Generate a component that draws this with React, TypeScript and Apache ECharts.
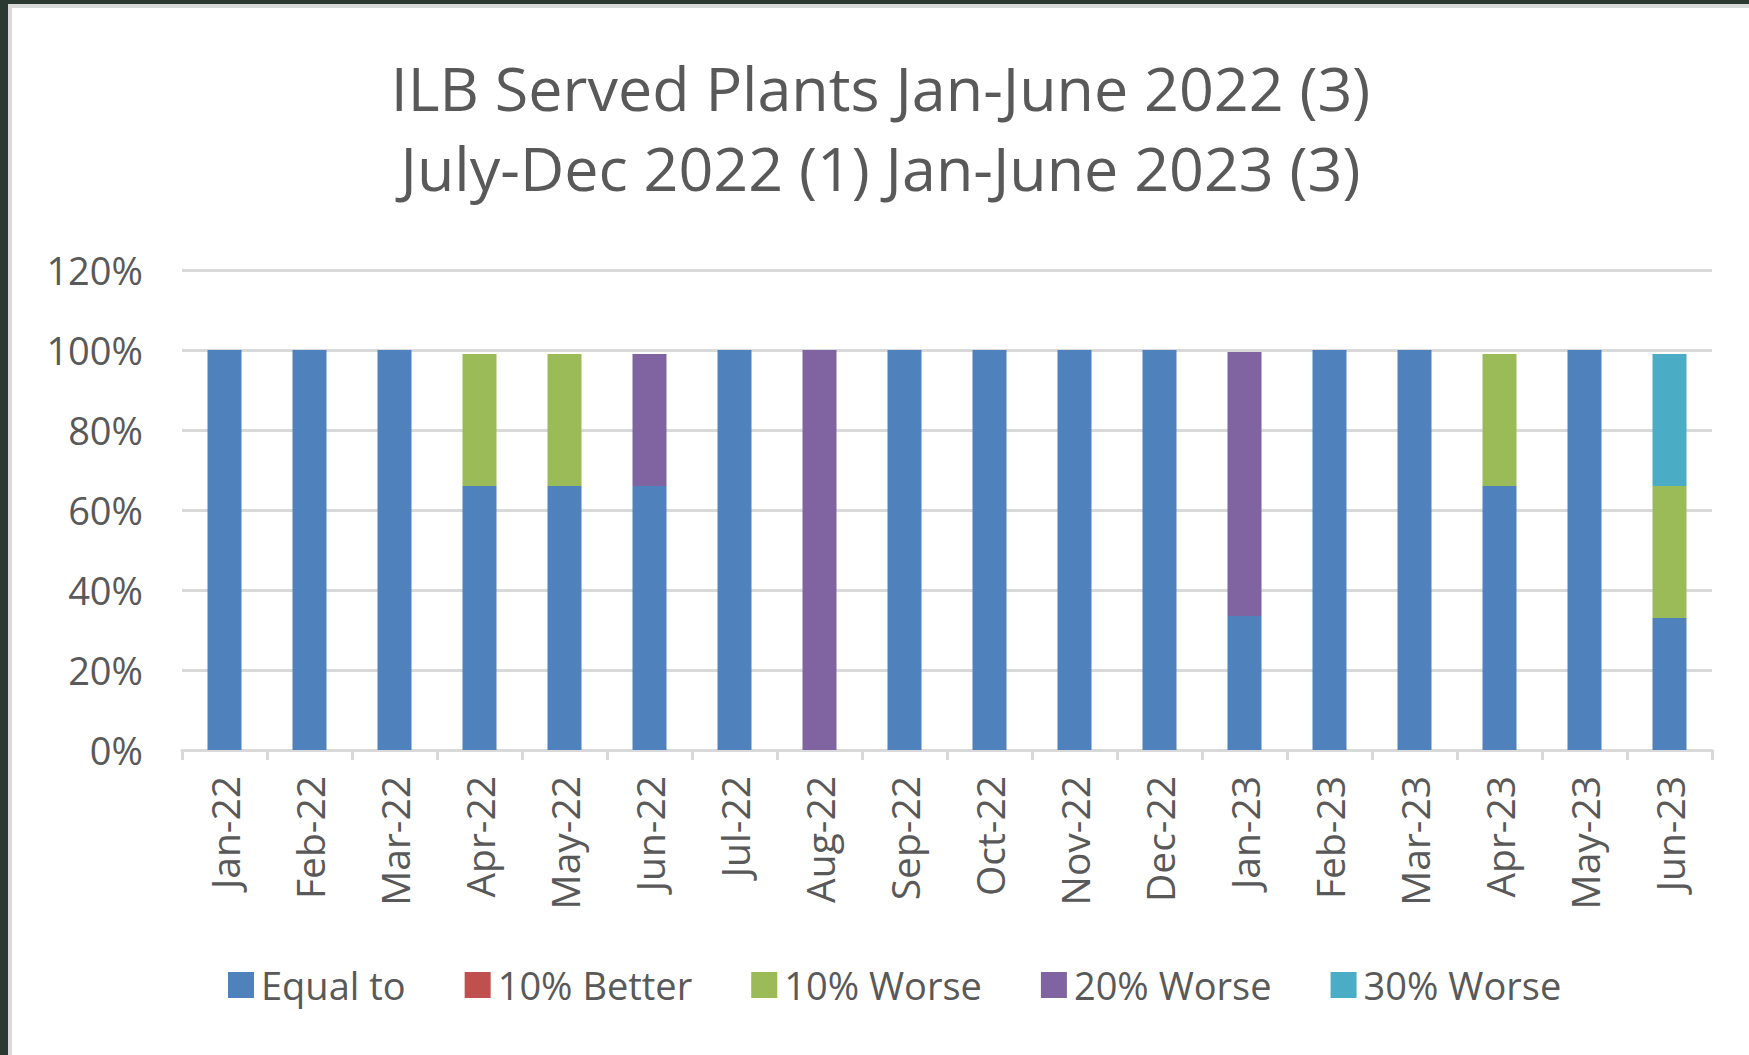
import React, { useEffect, useRef } from "react";
import * as echarts from "echarts";

const categories = [
  "Jan-22", "Feb-22", "Mar-22", "Apr-22", "May-22", "Jun-22",
  "Jul-22", "Aug-22", "Sep-22", "Oct-22", "Nov-22", "Dec-22",
  "Jan-23", "Feb-23", "Mar-23", "Apr-23", "May-23", "Jun-23",
];
const equalTo = [100, 100, 100, 66, 66, 66, 100, 0, 100, 100, 100, 100, 33.5, 100, 100, 66, 100, 33];
const better10 = [0, 0, 0, 0, 0, 0, 0, 0, 0, 0, 0, 0, 0, 0, 0, 0, 0, 0];
const worse10 = [0, 0, 0, 33, 33, 0, 0, 0, 0, 0, 0, 0, 0, 0, 0, 33, 0, 33];
const worse20 = [0, 0, 0, 0, 0, 33, 0, 100, 0, 0, 0, 0, 66, 0, 0, 0, 0, 0];
const worse30 = [0, 0, 0, 0, 0, 0, 0, 0, 0, 0, 0, 0, 0, 0, 0, 0, 0, 33];
const seriesNames = ["Equal to", "10% Better", "10% Worse", "20% Worse", "30% Worse"];
const seriesColors = ["#4F81BD", "#C0504D", "#9BBB59", "#8064A2", "#4BACC6"];
const titleLines = ["ILB Served Plants Jan-June 2022 (3)", "July-Dec 2022 (1) Jan-June 2023 (3)"];

const FONT = "'Open Sans', 'Noto Sans', sans-serif";
const TEXT = "#595959";
const GRID = "#d9d9d9";

export default function App() {
  const ref = useRef<HTMLDivElement>(null);
  useEffect(() => {
    document.body.style.margin = "0";
    const chart = echarts.init(ref.current!, null, { renderer: "svg" });
    const values = [equalTo, better10, worse10, worse20, worse30];
    chart.setOption({
      animation: false,
      backgroundColor: "#ffffff",
      title: {
        text: titleLines.join("\n"),
        left: "center",
        top: 39,
        padding: [0, 0, 0, 36],
        textStyle: { fontFamily: FONT, fontSize: 61, fontWeight: "normal", color: TEXT, lineHeight: 80 },
      },
      legend: {
        data: seriesNames,
        left: 211,
        top: 952,
        icon: "rect",
        itemWidth: 26,
        itemHeight: 26,
        itemGap: 59,
        textStyle: { fontFamily: FONT, fontSize: 38, color: TEXT, lineHeight: 40, padding: [0, 0, 0, 2] },
      },
      grid: { left: 170, right: 37, top: 262, bottom: 305, containLabel: false },
      xAxis: {
        type: "category",
        data: categories,
        axisLine: { lineStyle: { color: GRID, width: 3 } },
        axisTick: { show: true, length: 10, lineStyle: { color: GRID, width: 3 } },
        axisLabel: { rotate: 90, margin: 26, fontFamily: FONT, fontSize: 39, color: TEXT, interval: 0 },
      },
      yAxis: {
        type: "value",
        min: 0,
        max: 120,
        interval: 20,
        axisLine: { show: false },
        axisTick: { show: false },
        splitLine: { lineStyle: { color: GRID, width: 3 } },
        axisLabel: { formatter: "{value}%", margin: 39, fontFamily: FONT, fontSize: 38, color: TEXT },
      },
      series: seriesNames.map((name, i) => ({
        name,
        type: "bar",
        stack: "total",
        barWidth: "40%",
        data: values[i],
        itemStyle: { color: seriesColors[i] },
      })),
    });
    return () => chart.dispose();
  }, []);
  return (
    <div style={{ position: "fixed", left: 0, top: 0, width: 1749, height: 1055, background: "#2a3a33" }}>
      <div
        style={{
          position: "absolute",
          left: 8,
          top: 4,
          width: 1741,
          height: 1051,
          boxSizing: "border-box",
          borderLeft: "4px solid #d9d9d9",
          borderTop: "4px solid #d9d9d9",
          background: "#ffffff",
        }}
      >
        <div ref={ref} style={{ width: 1737, height: 1047 }} />
      </div>
    </div>
  );
}
